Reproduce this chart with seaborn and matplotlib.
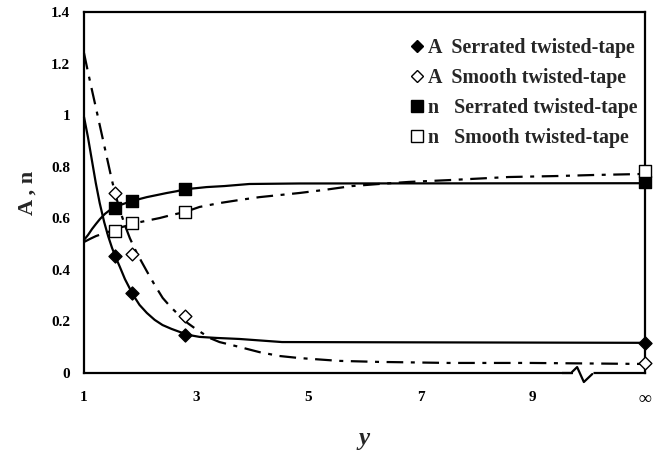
import matplotlib
matplotlib.use("Agg")
import matplotlib.pyplot as plt
from matplotlib.lines import Line2D
import pandas as pd
import seaborn as sns

# ---- measured points (y = pitch ratio, last column plotted at "infinity") ----
y_points = [1.55, 1.86, 2.80, 11.0]
A_serrated_pts = [0.454, 0.310, 0.147, 0.118]
A_smooth_pts = [0.700, 0.460, 0.220, 0.037]
n_serrated_pts = [0.640, 0.667, 0.713, 0.740]
n_smooth_pts = [0.552, 0.580, 0.624, 0.785]

# ---- fitted curves ----
A_serrated_x = [1.0, 1.07, 1.14, 1.21, 1.28, 1.36, 1.43, 1.50, 1.57, 1.64, 1.73,
                1.82, 1.91, 1.99, 2.12, 2.26, 2.40, 2.56, 2.71, 2.88, 3.06, 3.36,
                3.77, 4.53, 11.0]
A_serrated_y = [0.993, 0.915, 0.826, 0.737, 0.659, 0.585, 0.531, 0.485, 0.446,
                0.411, 0.364, 0.326, 0.291, 0.264, 0.233, 0.206, 0.186, 0.171,
                0.159, 0.147, 0.140, 0.136, 0.132, 0.120, 0.117]

A_smooth_x = [1.0, 1.071, 1.142, 1.213, 1.284, 1.355, 1.426, 1.497, 1.568, 1.639,
              1.728, 1.817, 1.924, 2.030, 2.137, 2.261, 2.403, 2.528, 2.652, 2.794,
              2.972, 3.238, 3.416, 3.771, 4.126, 4.481, 4.837, 5.547, 6.258, 7.50,
              8.96, 11.0]
A_smooth_y = [1.241, 1.167, 1.097, 1.028, 0.958, 0.888, 0.818, 0.748, 0.686, 0.632,
              0.574, 0.523, 0.473, 0.430, 0.388, 0.341, 0.291, 0.260, 0.233, 0.202,
              0.174, 0.136, 0.120, 0.101, 0.081, 0.066, 0.058, 0.047, 0.043, 0.039,
              0.039, 0.035]

n_serrated_x = [1.0, 1.071, 1.142, 1.213, 1.284, 1.373, 1.462, 1.551, 1.639, 1.746,
                1.853, 1.995, 2.119, 2.297, 2.474, 2.652, 2.812, 3.007, 3.185, 3.504,
                3.948, 4.837, 11.0]
n_serrated_y = [0.516, 0.535, 0.558, 0.578, 0.597, 0.617, 0.632, 0.644, 0.651, 0.659,
                0.667, 0.675, 0.682, 0.690, 0.698, 0.705, 0.713, 0.717, 0.721, 0.725,
                0.733, 0.735, 0.736]

n_smooth_x = [1.0, 1.107, 1.213, 1.320, 1.426, 1.551, 1.675, 1.817, 1.995, 2.172,
              2.350, 2.563, 2.794, 3.060, 3.416, 3.771, 4.126, 4.481, 4.837, 5.281,
              5.778, 6.258, 6.790, 7.501, 8.567, 9.455, 10.112, 11.0]
n_smooth_y = [0.508, 0.520, 0.531, 0.539, 0.547, 0.554, 0.566, 0.574, 0.585, 0.593,
              0.601, 0.613, 0.624, 0.644, 0.659, 0.671, 0.682, 0.690, 0.698, 0.710,
              0.725, 0.733, 0.741, 0.748, 0.760, 0.764, 0.768, 0.772]

x_tick_pos = [1, 3, 5, 7, 9, 11]
x_tick_labels = ["1", "3", "5", "7", "9", "\u221e"]
y_tick_pos = [0, 0.2, 0.4, 0.6, 0.8, 1.0, 1.2, 1.4]
y_tick_labels = ["0", "0.2", "0.4", "0.6", "0.8", "1", "1.2", "1.4"]

legend_labels = ["A  Serrated twisted-tape", "A  Smooth twisted-tape",
                 "n   Serrated twisted-tape", "n   Smooth twisted-tape"]

sns.set_theme(style="white")
plt.rcParams["font.family"] = ["Liberation Serif", "DejaVu Serif"]
plt.rcParams["font.weight"] = "bold"

fig, ax = plt.subplots(figsize=(6.61, 4.54), dpi=100)
fig.subplots_adjust(left=84 / 661, right=645 / 661, bottom=81 / 454, top=442 / 454)

dashdot = (0, (7.5, 3.4, 1.8, 3.4))
curves = [
    (A_serrated_x, A_serrated_y, "-"),
    (A_smooth_x, A_smooth_y, dashdot),
    (n_serrated_x, n_serrated_y, "-"),
    (n_smooth_x, n_smooth_y, dashdot),
]
for cx, cy, ls in curves:
    sns.lineplot(x=cx, y=cy, ax=ax, color="black", linewidth=1.6,
                 linestyle=ls, zorder=2, clip_on=False)

# markers
point_styles = [
    (A_serrated_pts, "D", "black", 44),
    (A_smooth_pts, "D", "white", 42),
    (n_serrated_pts, "s", "black", 78),
    (n_smooth_pts, "s", "white", 66),
]
for vals, mk, fc, size in point_styles:
    sns.scatterplot(x=y_points, y=vals, ax=ax, marker=mk, s=size, color=fc,
                    edgecolor="black", linewidth=1.0, zorder=5, clip_on=False)

ax.set_xlim(1, 11)
ax.set_ylim(0, 1.4)
ax.set_xticks(x_tick_pos)
ax.set_xticklabels(x_tick_labels, fontsize=11, fontweight="bold")
ax.get_xticklabels()[-1].set_fontsize(13)
ax.set_yticks(y_tick_pos)
ax.set_yticklabels(y_tick_labels, fontsize=11, fontweight="bold")
ax.tick_params(axis="both", direction="in", length=5, width=1.5, colors="black")
ax.tick_params(axis="x", pad=13)
ax.tick_params(axis="y", pad=10)

for sp in ax.spines.values():
    sp.set_visible(True)
    sp.set_linewidth(1.6)
    sp.set_color("black")

ax.set_xlabel("y", fontsize=18, fontweight="bold", fontstyle="italic")
ax.xaxis.set_label_coords(0.5, -0.15)
ax.set_ylabel("A , n", fontsize=16, fontweight="bold", labelpad=10)

# axis break on the x axis before "infinity"
ax.plot([9.70, 10.07], [0, 0], color="white", linewidth=3.5, solid_capstyle="butt",
        zorder=3, clip_on=False)
ax.plot([9.70, 9.79, 9.91, 10.06], [0.004, 0.023, -0.035, -0.004], color="black",
        linewidth=1.6, zorder=4, clip_on=False)
ax.plot([9.52, 9.72], [0, 0], color="black", linewidth=1.6, solid_capstyle="butt",
        zorder=3, clip_on=False)

handles = [
    Line2D([], [], linestyle="none", marker="D", markersize=6.5,
           markerfacecolor="black", markeredgecolor="black"),
    Line2D([], [], linestyle="none", marker="D", markersize=6.5,
           markerfacecolor="white", markeredgecolor="black"),
    Line2D([], [], linestyle="none", marker="s", markersize=8.5,
           markerfacecolor="black", markeredgecolor="black"),
    Line2D([], [], linestyle="none", marker="s", markersize=8.5,
           markerfacecolor="white", markeredgecolor="black"),
]
ax.legend(handles, legend_labels, loc="upper left",
          bbox_to_anchor=(409 / 661, 1 - 38 / 454), bbox_transform=fig.transFigure,
          frameon=False, borderaxespad=0, borderpad=0, handlelength=0.8,
          handletextpad=0.15, labelspacing=0.5,
          prop={"family": ["Liberation Serif"], "weight": "bold", "size": 14.4})

fig.savefig("out.png", dpi=100)
